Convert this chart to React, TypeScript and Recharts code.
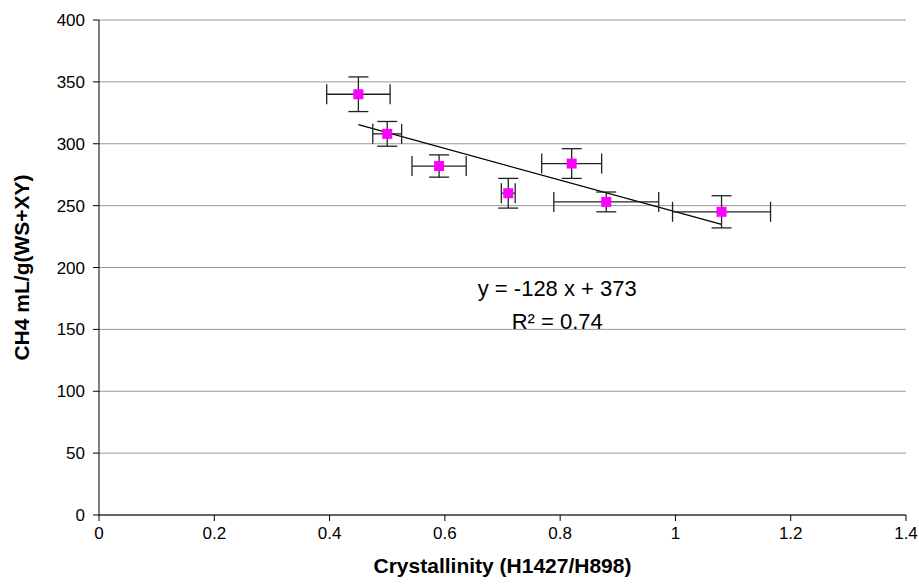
import {
  ScatterChart,
  Scatter,
  XAxis,
  YAxis,
  CartesianGrid,
  ErrorBar,
  ReferenceLine,
  ReferenceDot,
} from "recharts";

// crystallinity vs methane yield
const crystallinity = [0.45, 0.5, 0.59, 0.71, 0.82, 0.88, 1.08];
const methaneYield = [340, 308, 282, 260, 284, 253, 245];
const crystErr = [0.055, 0.025, 0.047, 0.012, 0.052, 0.091, 0.085];
const yieldErr = [14, 10, 9, 12, 12, 8, 13];

const xTicks = [0, 0.2, 0.4, 0.6, 0.8, 1, 1.2, 1.4];
const yTicks = [0, 50, 100, 150, 200, 250, 300, 350, 400];

// trendline from the reported fit
const slope = -128;
const intercept = 373;
const fitLabel = "y = -128 x + 373";
const r2Label = "R² = 0.74";

const points = crystallinity.map((x, i) => ({
  x,
  y: methaneYield[i],
  ex: crystErr[i],
  ey: yieldErr[i],
}));

const xMin = Math.min(...crystallinity);
const xMax = Math.max(...crystallinity);

const font = "'Liberation Sans', sans-serif";

const Square = (props: any) => {
  const { cx, cy } = props;
  return <rect x={cx - 5} y={cy - 5} width={10} height={10} fill="#ff00ff" />;
};

export default function App() {
  return (
    <div style={{ position: "absolute", left: 0, top: 0 }}>
      <ScatterChart
        width={919}
        height={586}
        margin={{ top: 20, right: 13, left: 39, bottom: 41 }}
      >
        <CartesianGrid horizontal vertical={false} stroke="#9a9a9a" />
        <XAxis
          type="number"
          dataKey="x"
          domain={[0, 1.4]}
          ticks={xTicks}
          height={30}
          tickFormatter={(v: number) => String(v)}
          axisLine={{ stroke: "#000" }}
          tickLine={{ stroke: "#000" }}
          tickSize={6}
          tickMargin={6}
          tick={{ fill: "#000", fontSize: 17, fontFamily: font }}
          label={{
            value: "Crystallinity  (H1427/H898)",
            position: "insideBottom",
            offset: -28,
            style: { fill: "#000", fontSize: 21, fontWeight: "bold", fontFamily: font },
          }}
        />
        <YAxis
          type="number"
          dataKey="y"
          domain={[0, 400]}
          ticks={yTicks}
          width={60}
          axisLine={{ stroke: "#000" }}
          tickLine={{ stroke: "#000" }}
          tickSize={6}
          tickMargin={8}
          tick={{ fill: "#000", fontSize: 17, fontFamily: font }}
          label={{
            value: "CH4 mL/g(WS+XY)",
            angle: -90,
            position: "insideLeft",
            offset: -17,
            style: {
              fill: "#000",
              fontSize: 21,
              fontWeight: "bold",
              fontFamily: font,
              textAnchor: "middle",
            },
          }}
        />
        <ReferenceLine
          segment={[
            { x: xMin, y: slope * xMin + intercept },
            { x: xMax, y: slope * xMax + intercept },
          ]}
          stroke="#000"
          strokeWidth={1.3}
        />
        <Scatter data={points} shape={<Square />} isAnimationActive={false}>
          <ErrorBar dataKey="ex" direction="x" width={10} stroke="#222" strokeWidth={1.3} />
          <ErrorBar dataKey="ey" direction="y" width={10} stroke="#222" strokeWidth={1.3} />
        </Scatter>
        <ReferenceDot
          x={0.795}
          y={183}
          r={0}
          fill="none"
          stroke="none"
          label={{
            value: fitLabel,
            position: "center",
            style: { fill: "#000", fontSize: 22, fontFamily: font },
          }}
        />
        <ReferenceDot
          x={0.795}
          y={157}
          r={0}
          fill="none"
          stroke="none"
          label={{
            value: r2Label,
            position: "center",
            style: { fill: "#000", fontSize: 22, fontFamily: font },
          }}
        />
      </ScatterChart>
    </div>
  );
}
